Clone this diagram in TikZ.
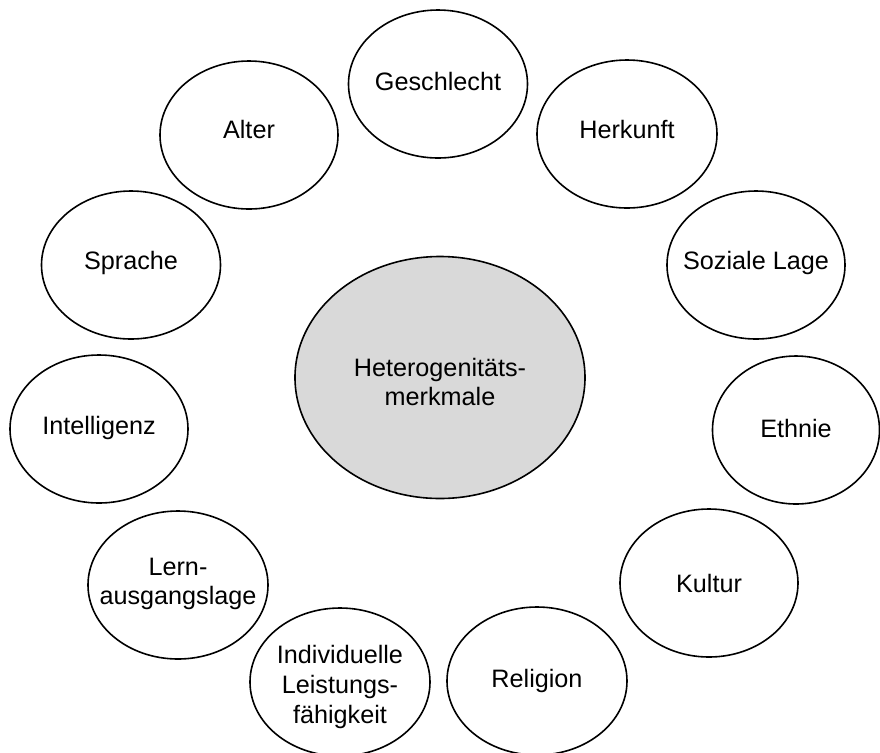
\documentclass[tikz,border=0pt]{standalone}
\usepackage{fontspec}
\setmainfont{Liberation Sans}
\definecolor{kerngrau}{RGB}{217,217,217}

\begin{document}
\begin{tikzpicture}[x=0.5pt,y=-0.5pt,
  ring/.style={draw=black,line width=0.8pt},
  merkmal/.style={align=center,inner sep=0pt,font=\fontsize{12.6}{14.9}\selectfont}]
  \useasboundingbox (0,0) rectangle (880,752);
  % centre
  \draw[ring,fill=kerngrau] (440,377.5) ellipse [x radius=72.5pt,y radius=60.5pt];
  \node[merkmal] (heterogen) at (440,382) {Heterogenitäts-\\merkmale};
  % ring of features
  \foreach \n/\x/\y/\ty/\rx/\t in {gesch/438/84/81/89.5/Geschlecht,
      herkunft/627/134/129/90/Herkunft, alter/249/135/129/89/Alter,
      sprache/131/265/263/89.5/Sprache, sozial/756/265/263/89/Soziale Lage,
      intell/99/429/428/89/Intelligenz, ethnie/796/430/428/83.5/Ethnie,
      lern/178/585/584/90/{Lern-\\ausgangslage}, kultur/709/583/583/89/Kultur,
      indiv/340/682/687/90/{Individuelle\\Leistungs-\\fähigkeit},
      religion/537/681/681/90/Religion}
    {\draw[ring] (\x,\y) ellipse [x radius=\rx*0.5pt,y radius=37pt];
     \node[merkmal] (\n) at (\x,\ty) {\t};}
\end{tikzpicture}
\end{document}
